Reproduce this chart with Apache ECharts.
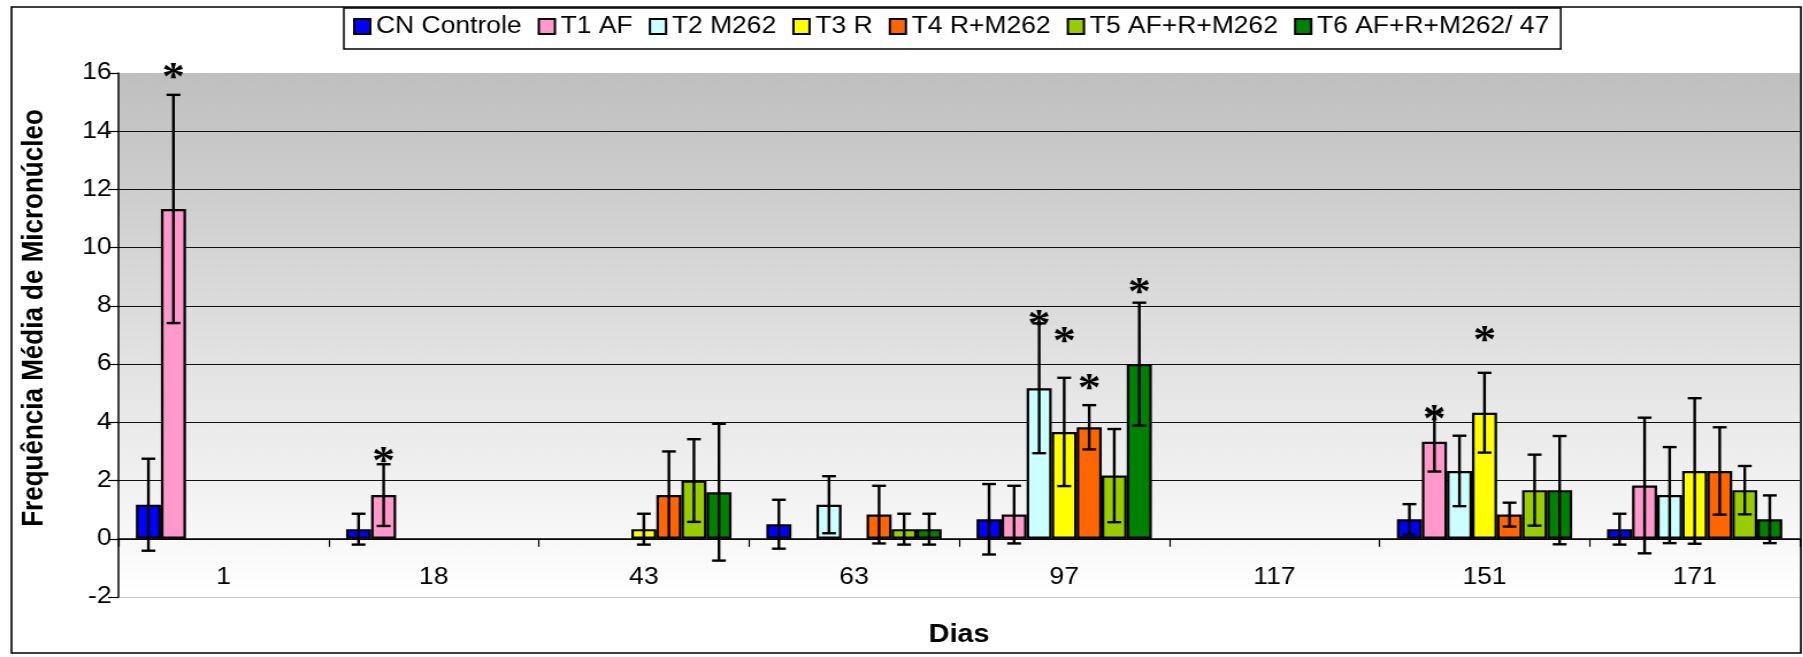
<!DOCTYPE html>
<html>
<head>
<meta charset="utf-8">
<script src="https://cdn.jsdelivr.net/npm/echarts@6/dist/echarts.min.js"></script>
<style>
  html, body { margin: 0; padding: 0; background: #fff; overflow: hidden; }
  /* the reference picture is stretched sideways, so the chart is drawn narrow and widened */
  #chart { width: 1568px; height: 657px; transform: scaleX(1.15); transform-origin: 0 0; }
</style>
</head>
<body>
<div id="chart"></div>
<script>
// dias de coleta
const days = ['1', '18', '43', '63', '97', '117', '151', '171'];
const names = ['CN Controle', 'T1 AF', 'T2 M262', 'T3 R', 'T4 R+M262', 'T5 AF+R+M262', 'T6 AF+R+M262/ 47'];
const colors = ['#0000FF', '#FF99CC', '#CCFFFF', '#FFFF00', '#FF6600', '#99CC00', '#008000'];

// médias
const cnMean = [1.17, 0.33, null, 0.5, 0.67, null, 0.67, 0.33];
const t1Mean = [11.33, 1.5, null, null, 0.83, null, 3.33, 1.83];
const t2Mean = [null, null, null, 1.17, 5.17, null, 2.33, 1.5];
const t3Mean = [null, null, 0.33, null, 3.67, null, 4.33, 2.33];
const t4Mean = [null, null, 1.5, 0.83, 3.83, null, 0.83, 2.33];
const t5Mean = [null, null, 2.0, 0.33, 2.17, null, 1.67, 1.67];
const t6Mean = [null, null, 1.6, 0.33, 6.0, null, 1.67, 0.67];

// desvio padrão (barras de erro)
const cnErr = [1.58, 0.53, null, 0.84, 1.21, null, 0.52, 0.53];
const t1Err = [3.92, 1.06, null, null, 0.99, null, 1.02, 2.33];
const t2Err = [null, null, null, 0.98, 2.23, null, 1.21, 1.65];
const t3Err = [null, null, 0.53, null, 1.86, null, 1.37, 2.5];
const t4Err = [null, null, 1.5, 0.99, 0.76, null, 0.41, 1.5];
const t5Err = [null, null, 1.42, 0.53, 1.6, null, 1.22, 0.83];
const t6Err = [null, null, 2.35, 0.53, 2.11, null, 1.86, 0.82];

// asteriscos: [dia, tratamento, altura]
const sigMarks = [
  [0, 1, 16.0],
  [1, 1, 2.82],
  [4, 2, 7.54],
  [4, 3, 6.95],
  [4, 4, 5.33],
  [4, 6, 8.62],
  [6, 1, 4.27],
  [6, 3, 6.99]
];

const yTicks = [-2, 16, 2]; // min, max, intervalo

const means = [cnMean, t1Mean, t2Mean, t3Mean, t4Mean, t5Mean, t6Mean];
const errs = [cnErr, t1Err, t2Err, t3Err, t4Err, t5Err, t6Err];

const catGap = 0.166;
const font = 'Arial, "Liberation Sans", sans-serif';

// posição x do centro da barra s no dia ci
function barX(api, ci, s) {
  const band = api.size([1, 0])[0];
  const inner = band * (1 - catGap);
  const bw = inner / names.length;
  const c = api.coord([ci, 0]);
  return c[0] - inner / 2 + (s + 0.5) * bw;
}

const errData = [];
errs.forEach(function (arr, s) {
  arr.forEach(function (e, ci) {
    if (e != null && means[s][ci] != null) errData.push([ci, s, means[s][ci], e]);
  });
});

const series = names.map(function (n, s) {
  return {
    name: n,
    type: 'bar',
    data: means[s],
    barGap: '0%',
    barCategoryGap: (catGap * 100) + '%',
    itemStyle: { color: colors[s], borderColor: '#000', borderWidth: 2.2 },
    emphasis: { disabled: true },
    z: 2
  };
});

series.push({
  name: 'erro',
  type: 'custom',
  z: 5,
  silent: true,
  data: errData,
  renderItem: function (params, api) {
    const ci = api.value(0), s = api.value(1), v = api.value(2), e = api.value(3);
    const x = barX(api, ci, s);
    const yHi = api.coord([ci, v + e])[1];
    const yLo = api.coord([ci, v - e])[1];
    const cap = 6;
    const st = { stroke: '#000', lineWidth: 2.4 };
    return {
      type: 'group',
      children: [
        { type: 'line', shape: { x1: x, y1: yHi, x2: x, y2: yLo }, style: st },
        { type: 'line', shape: { x1: x - cap, y1: yHi, x2: x + cap, y2: yHi }, style: st },
        { type: 'line', shape: { x1: x - cap, y1: yLo, x2: x + cap, y2: yLo }, style: st }
      ]
    };
  }
});

series.push({
  name: 'sig',
  type: 'custom',
  z: 6,
  silent: true,
  data: sigMarks,
  renderItem: function (params, api) {
    const ci = api.value(0), s = api.value(1), y = api.value(2);
    const x = barX(api, ci, s);
    const py = api.coord([ci, y])[1];
    return {
      type: 'text',
      x: x,
      y: py + 6,
      style: {
        text: '*',
        font: 'bold 40px "Liberation Serif", "Times New Roman", serif',
        fill: '#000',
        align: 'center',
        verticalAlign: 'middle'
      }
    };
  }
});

const chart = echarts.init(document.getElementById('chart'));
chart.setOption({
  animation: false,
  backgroundColor: '#fff',
  textStyle: { fontFamily: font, color: '#000' },
  graphic: [{
    type: 'rect',
    shape: { x: 10, y: 7, width: 1556, height: 646 },
    style: { fill: 'none', stroke: '#000', lineWidth: 1.6 },
    z: -1
  }, {
    type: 'text',
    x: 30,
    y: 318,
    rotation: Math.PI / 2,
    style: {
      text: 'Frequência Média de Micronúcleo',
      font: 'bold 26px Arial, "Liberation Sans", sans-serif',
      fill: '#000',
      align: 'center',
      verticalAlign: 'middle'
    }
  }],
  legend: {
    data: names,
    left: 299,
    top: 8,
    orient: 'horizontal',
    itemWidth: 14,
    itemHeight: 15,
    itemGap: 14,
    icon: 'rect',
    padding: [7, 10, 11, 8],
    borderColor: '#000',
    borderWidth: 1.5,
    backgroundColor: '#fff',
    selectedMode: false,
    textStyle: { fontSize: 23, color: '#000', fontFamily: font }
  },
  grid: {
    left: 103,
    right: 3,
    top: 73,
    bottom: 60,
    show: true,
    borderWidth: 0,
    containLabel: false,
    outerBoundsMode: 'none',
    backgroundColor: {
      type: 'linear', x: 0, y: 0, x2: 0, y2: 1,
      colorStops: [{ offset: 0, color: '#bfbfbf' }, { offset: 1, color: '#ffffff' }]
    }
  },
  xAxis: {
    type: 'category',
    data: days,
    position: 'bottom',
    offset: -58.2,
    name: 'Dias',
    nameLocation: 'middle',
    nameGap: 84,
    nameTextStyle: { fontSize: 25, fontWeight: 'bold', color: '#000', fontFamily: font },
    axisLine: { show: true, onZero: false, lineStyle: { color: '#000', width: 1.5 } },
    axisTick: { show: true, length: 8, lineStyle: { color: '#000', width: 1.2 } },
    axisLabel: { fontSize: 23, color: '#000', margin: 27, fontFamily: font },
    splitLine: { show: false }
  },
  yAxis: {
    type: 'value',
    min: yTicks[0],
    max: yTicks[1],
    interval: yTicks[2],
    axisLine: { show: true, lineStyle: { color: '#000', width: 1.5 } },
    axisTick: { show: true, length: 9, lineStyle: { color: '#000', width: 1.2 } },
    axisLabel: { fontSize: 23, color: '#000', margin: 6, fontFamily: font },
    splitLine: {
      show: true,
      lineStyle: {
        width: 1.2,
        color: ['#c8c8c8', '#111', '#111', '#111', '#111', '#111', '#111', '#111', '#111', 'rgba(0,0,0,0)']
      }
    }
  },
  series: series
});
</script>
</body>
</html>
